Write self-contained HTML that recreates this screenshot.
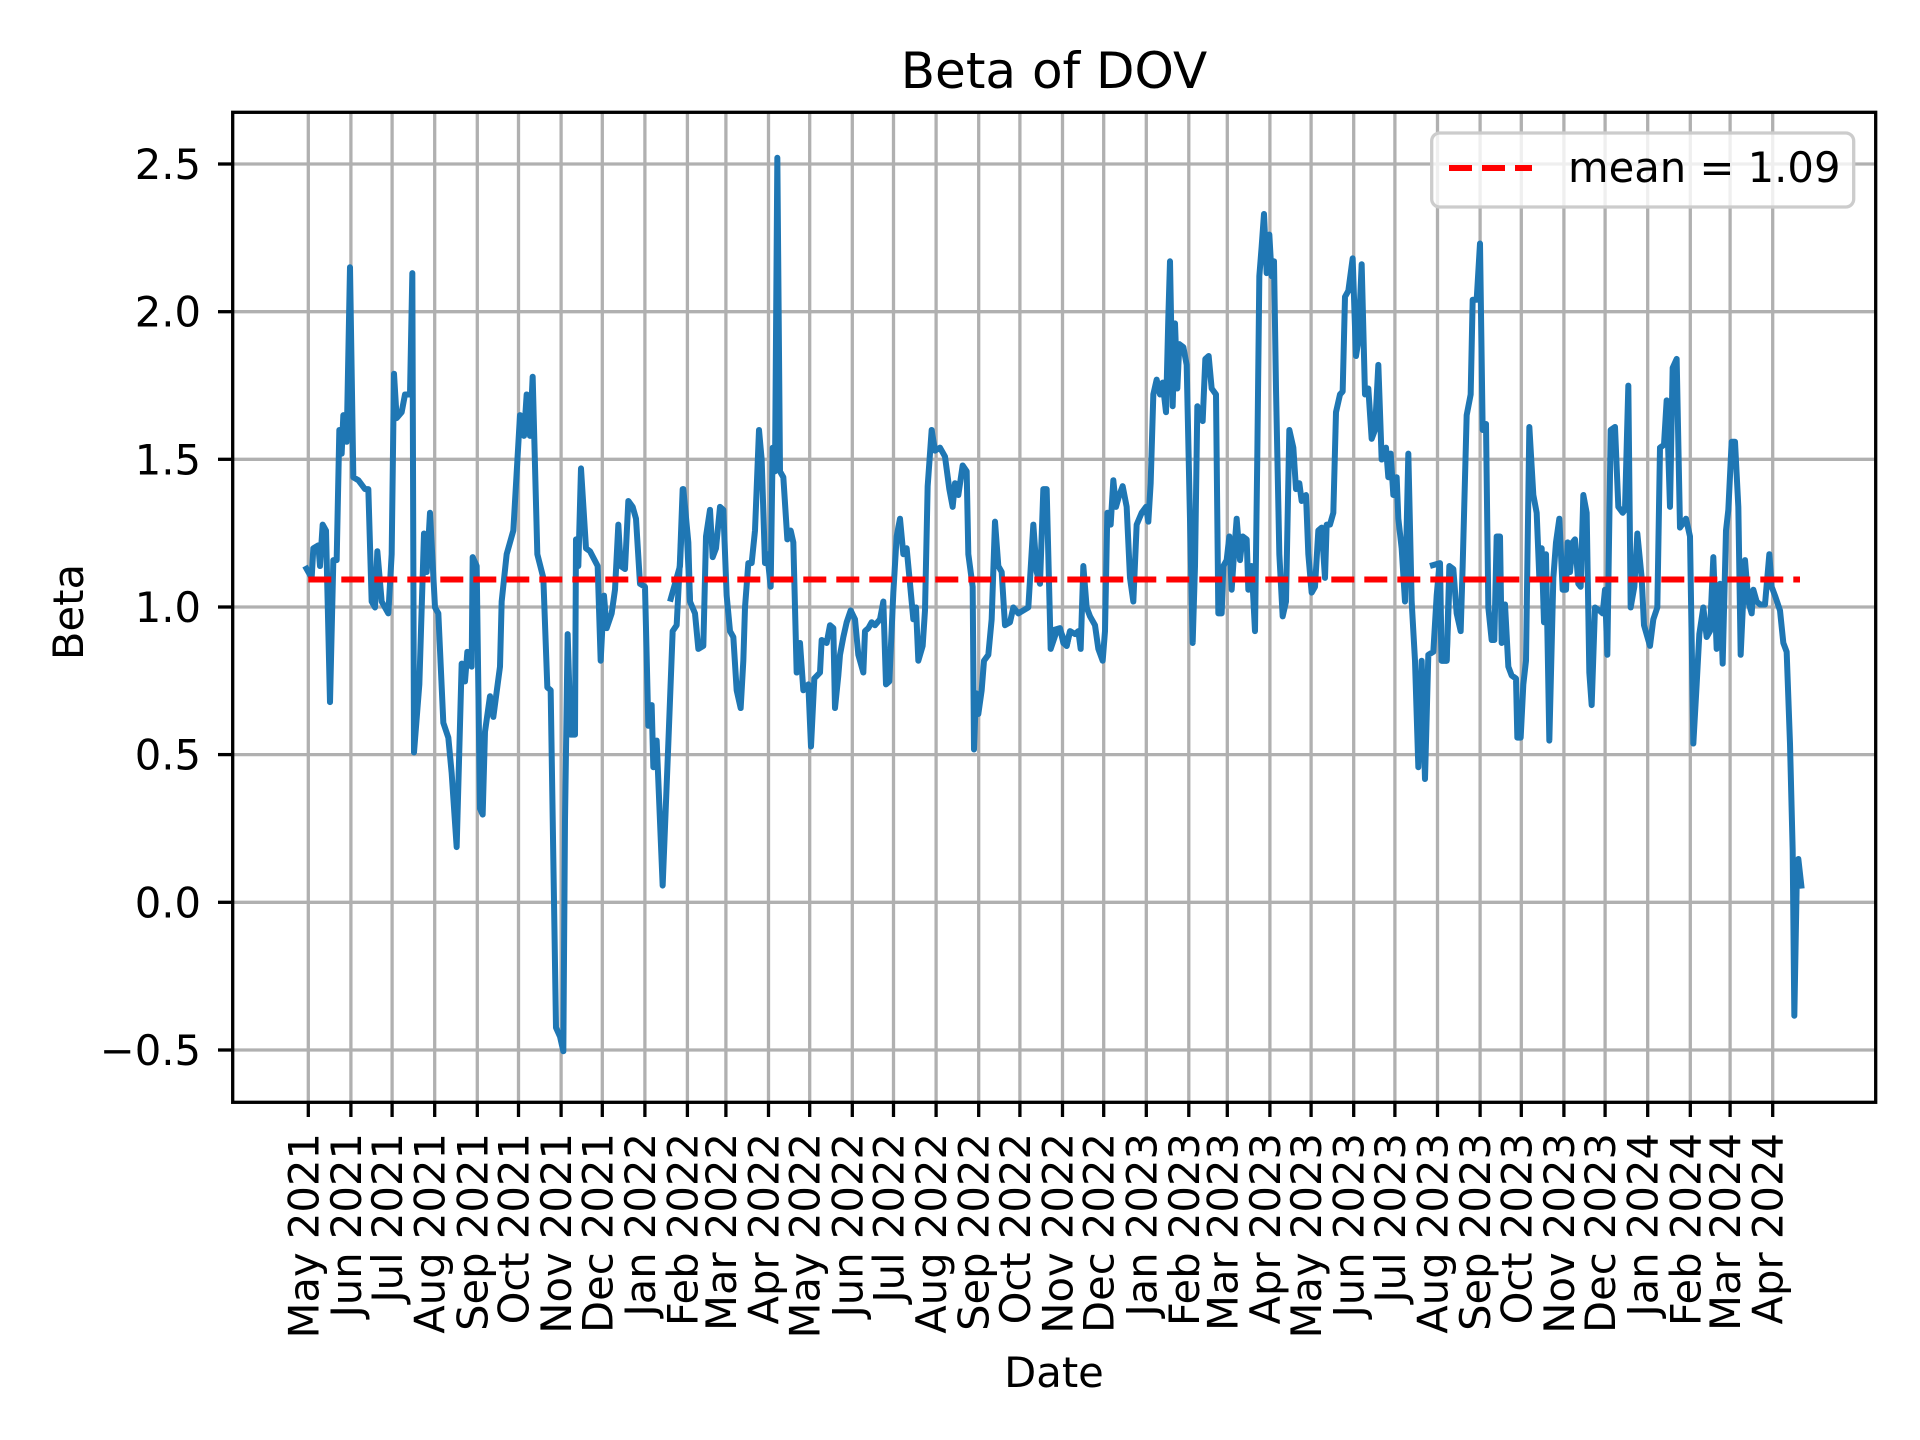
<!DOCTYPE html>
<html><head><meta charset="utf-8"><style>html,body{margin:0;padding:0;background:#fff}svg{display:block}</style></head>
<body>
<svg xmlns="http://www.w3.org/2000/svg" width="1920" height="1440" viewBox="0 0 1920 1440" font-family="'DejaVu Sans','Liberation Sans',sans-serif">
<rect width="1920" height="1440" fill="#fff"/>
<!-- grid -->
<g stroke="#b0b0b0" stroke-width="3.3">
<line x1="232.7" x2="1875.7" y1="164" y2="164"/>
<line x1="232.7" x2="1875.7" y1="311.7" y2="311.7"/>
<line x1="232.7" x2="1875.7" y1="459.3" y2="459.3"/>
<line x1="232.7" x2="1875.7" y1="607" y2="607"/>
<line x1="232.7" x2="1875.7" y1="754.6" y2="754.6"/>
<line x1="232.7" x2="1875.7" y1="902.3" y2="902.3"/>
<line x1="232.7" x2="1875.7" y1="1050" y2="1050"/>
<g id="vg">
<line x1="308.3" x2="308.3" y1="112.3" y2="1102.3"/><line x1="350.9" x2="350.9" y1="112.3" y2="1102.3"/><line x1="392.1" x2="392.1" y1="112.3" y2="1102.3"/><line x1="434.7" x2="434.7" y1="112.3" y2="1102.3"/><line x1="477.3" x2="477.3" y1="112.3" y2="1102.3"/><line x1="518.5" x2="518.5" y1="112.3" y2="1102.3"/><line x1="561.1" x2="561.1" y1="112.3" y2="1102.3"/><line x1="602.3" x2="602.3" y1="112.3" y2="1102.3"/><line x1="644.9" x2="644.9" y1="112.3" y2="1102.3"/><line x1="687.4" x2="687.4" y1="112.3" y2="1102.3"/><line x1="725.9" x2="725.9" y1="112.3" y2="1102.3"/><line x1="768.5" x2="768.5" y1="112.3" y2="1102.3"/><line x1="809.7" x2="809.7" y1="112.3" y2="1102.3"/><line x1="852.3" x2="852.3" y1="112.3" y2="1102.3"/><line x1="893.5" x2="893.5" y1="112.3" y2="1102.3"/><line x1="936.1" x2="936.1" y1="112.3" y2="1102.3"/><line x1="978.7" x2="978.7" y1="112.3" y2="1102.3"/><line x1="1019.9" x2="1019.9" y1="112.3" y2="1102.3"/><line x1="1062.5" x2="1062.5" y1="112.3" y2="1102.3"/><line x1="1103.7" x2="1103.7" y1="112.3" y2="1102.3"/><line x1="1146.3" x2="1146.3" y1="112.3" y2="1102.3"/><line x1="1188.8" x2="1188.8" y1="112.3" y2="1102.3"/><line x1="1227.3" x2="1227.3" y1="112.3" y2="1102.3"/><line x1="1269.9" x2="1269.9" y1="112.3" y2="1102.3"/><line x1="1311.1" x2="1311.1" y1="112.3" y2="1102.3"/><line x1="1353.7" x2="1353.7" y1="112.3" y2="1102.3"/><line x1="1394.9" x2="1394.9" y1="112.3" y2="1102.3"/><line x1="1437.5" x2="1437.5" y1="112.3" y2="1102.3"/><line x1="1480.1" x2="1480.1" y1="112.3" y2="1102.3"/><line x1="1521.3" x2="1521.3" y1="112.3" y2="1102.3"/><line x1="1563.9" x2="1563.9" y1="112.3" y2="1102.3"/><line x1="1605.1" x2="1605.1" y1="112.3" y2="1102.3"/><line x1="1647.7" x2="1647.7" y1="112.3" y2="1102.3"/><line x1="1690.3" x2="1690.3" y1="112.3" y2="1102.3"/><line x1="1730.1" x2="1730.1" y1="112.3" y2="1102.3"/><line x1="1772.7" x2="1772.7" y1="112.3" y2="1102.3"/>
</g>
</g>
<!-- data -->
<g fill="none" stroke="#1f77b4" stroke-width="6" stroke-linejoin="round">
<polyline vector-effect="non-scaling-stroke" transform="translate(300,140) scale(0.33333,0.59172)" points="15,720 35,740 40,690 55,685 60,720 68,650 78,660 90,950 100,710 110,710 118,490 125,530 130,465 140,510 150,215 160,570 175,575 195,590 205,590 215,780 225,790 232,695 245,780 265,800 275,700 282,395 290,470 305,460 315,430 330,430 337,225 342,1035 358,920 372,665 380,730 390,630 405,790 415,800 430,985 445,1010 455,1070 470,1195 485,885 495,915 502,865 515,890 518,705 530,720 540,1130 548,1140 555,1000 570,940 580,975 600,890 605,780 620,700 640,660 660,465 672,500 680,430 690,500 698,400 712,700 730,740 742,925 752,930 768,1500 780,1515 790,1540 795,1150 803,835 812,1005 825,1005 828,675 835,720 843,555 858,690 870,695 893,720 902,880 912,770 920,825 935,800 945,760 955,650 962,720 975,725 985,610 998,620 1008,640 1020,750 1035,755 1045,990 1055,955 1060,1060 1070,1015 1088,1260 1105,1020 1118,830 1130,820 1140,710 1148,590 1160,660 1170,780"/>
<polyline vector-effect="non-scaling-stroke" transform="translate(680,140) scale(0.33333,0.59172)" points="-30,780 0,720 10,590 25,680 30,780 45,800 55,860 70,855 78,670 90,625 98,705 108,690 120,620 130,625 140,770 150,830 160,840 170,930 182,960 190,880 195,790 205,715 215,715 225,660 237,490 245,540 255,715 262,700 272,755 278,520 285,560 292,30 300,560 310,570 318,640 322,675 332,660 340,680 350,900 360,850 370,930 385,920 393,1025 403,910 420,900 425,845 440,850 450,820 460,825 465,960 475,905 480,870 490,840 500,815 512,795 525,810 535,870 550,900 555,830 565,825 575,815 585,820 600,810 610,780 618,920 628,915 640,765 650,670 660,640 670,700 680,690 690,750 700,810 708,790 715,880 728,855 735,795 743,585 755,490 765,525 780,520 795,535 808,590 818,620 825,580 835,600 848,550 860,560 865,700 878,755 882,1030 888,935 895,970 905,930 912,880 925,870 935,810 945,645 955,720 965,730 975,820 990,815 1000,790 1015,800 1030,795 1045,790 1060,650 1070,730 1080,750 1090,590 1100,590 1112,860 1130,830 1140,828 1160,855 1170,830"/>
<polyline vector-effect="non-scaling-stroke" transform="translate(1060,140) scale(0.33333,0.59172)" points="-30,830 0,825 10,850 20,855 30,830 45,835 55,830 62,860 70,720 80,790 90,805 105,820 115,860 128,880 135,830 142,630 152,650 160,575 168,620 178,600 188,585 200,620 210,740 220,780 230,650 245,630 258,620 265,645 272,580 280,430 290,405 300,430 308,410 318,460 325,300 330,205 338,450 345,310 352,420 358,345 370,350 380,380 398,850 405,720 412,450 420,465 428,475 436,370 446,365 455,420 468,430 475,800 485,800 490,720 500,710 508,670 515,760 522,700 530,640 540,710 548,670 560,675 565,760 575,720 585,830 592,530 598,230 605,180 612,125 620,225 628,160 635,230 642,205 648,420 658,700 668,805 678,780 688,490 700,520 708,590 718,580 725,610 738,600 745,700 755,765 765,755 775,660 785,655 795,740 800,650 810,650 820,630 828,460 840,430 848,425 855,265 865,255 878,200 888,365 895,340 905,210 915,430 925,420 935,505 945,490 955,380 965,540 978,520 985,570 992,530 1000,600 1010,570 1015,640 1025,690 1035,780 1045,530 1055,780 1065,880 1075,1060 1085,880 1095,1080 1105,870 1120,865 1130,770 1138,720 1145,880 1160,880 1170,720"/>
<polyline vector-effect="non-scaling-stroke" transform="translate(1440,140) scale(0.33333,0.59172)" points="-30,720 0,715 5,880 20,880 28,720 40,725 50,800 62,830 68,720 80,465 92,430 98,270 110,270 120,175 128,490 138,480 145,790 155,845 163,845 170,670 180,670 185,850 195,785 205,890 215,905 228,910 232,1010 242,1010 250,920 258,880 268,485 280,600 290,630 298,740 305,690 312,815 318,700 328,1015 340,740 348,680 358,640 368,760 378,760 383,680 390,730 398,680 405,675 415,750 422,755 430,600 440,630 448,900 455,955 465,790 478,795 488,800 495,760 502,870 512,490 525,485 535,620 548,630 555,625 565,415 572,790 583,755 592,665 605,740 612,820 630,855 640,810 652,790 660,520 672,515 680,440 690,620 698,385 710,370 720,655 738,640 750,670 760,1020 770,920 778,835 790,790 800,840 810,830 820,705 830,860 840,750 848,885 858,660 865,625 875,510 885,510 895,620 902,870 915,710 925,780 935,800 940,760 950,780 960,785 975,785 988,700 995,755 1005,770 1020,795 1030,850 1040,865 1050,1020 1058,1200 1063,1480 1070,1260 1075,1215 1085,1265"/>
</g>
<!-- mean line -->
<line x1="308.3" x2="1800" y1="579.5" y2="579.5" stroke="#ff0000" stroke-width="6" stroke-dasharray="23,10"/>
<!-- axes frame -->
<rect x="232.7" y="112.3" width="1643" height="990" fill="none" stroke="#000" stroke-width="3.3"/>
<!-- y ticks -->
<g stroke="#000" stroke-width="3.3">
<line x1="218" x2="232.7" y1="164" y2="164"/><line x1="218" x2="232.7" y1="311.7" y2="311.7"/><line x1="218" x2="232.7" y1="459.3" y2="459.3"/><line x1="218" x2="232.7" y1="607" y2="607"/><line x1="218" x2="232.7" y1="754.6" y2="754.6"/><line x1="218" x2="232.7" y1="902.3" y2="902.3"/><line x1="218" x2="232.7" y1="1050" y2="1050"/>
</g>
<g font-size="41.7" text-anchor="end" fill="#000">
<text x="201" y="179">2.5</text><text x="201" y="326.7">2.0</text><text x="201" y="474.3">1.5</text><text x="201" y="622">1.0</text><text x="201" y="769.6">0.5</text><text x="201" y="917.3">0.0</text><text x="201" y="1065">−0.5</text>
</g>
<!-- x ticks -->
<g stroke="#000" stroke-width="3.3" transform="translate(0,990)">
<use href="#xt"/>
</g>
<g stroke="#000" stroke-width="3.3">
<path d="M308.3 1102v15M350.9 1102v15M392.1 1102v15M434.7 1102v15M477.3 1102v15M518.5 1102v15M561.1 1102v15M602.3 1102v15M644.9 1102v15M687.4 1102v15M725.9 1102v15M768.5 1102v15M809.7 1102v15M852.3 1102v15M893.5 1102v15M936.1 1102v15M978.7 1102v15M1019.9 1102v15M1062.5 1102v15M1103.7 1102v15M1146.3 1102v15M1188.8 1102v15M1227.3 1102v15M1269.9 1102v15M1311.1 1102v15M1353.7 1102v15M1394.9 1102v15M1437.5 1102v15M1480.1 1102v15M1521.3 1102v15M1563.9 1102v15M1605.1 1102v15M1647.7 1102v15M1690.3 1102v15M1730.1 1102v15M1772.7 1102v15"/>
</g>
<g font-size="41.7" text-anchor="end" fill="#000">
<text transform="translate(318.3,1133) rotate(-90)">May 2021</text>
<text transform="translate(360.9,1133) rotate(-90)">Jun 2021</text>
<text transform="translate(402.1,1133) rotate(-90)">Jul 2021</text>
<text transform="translate(444.7,1133) rotate(-90)">Aug 2021</text>
<text transform="translate(487.3,1133) rotate(-90)">Sep 2021</text>
<text transform="translate(528.5,1133) rotate(-90)">Oct 2021</text>
<text transform="translate(571.1,1133) rotate(-90)">Nov 2021</text>
<text transform="translate(612.3,1133) rotate(-90)">Dec 2021</text>
<text transform="translate(654.9,1133) rotate(-90)">Jan 2022</text>
<text transform="translate(697.4,1133) rotate(-90)">Feb 2022</text>
<text transform="translate(735.9,1133) rotate(-90)">Mar 2022</text>
<text transform="translate(778.5,1133) rotate(-90)">Apr 2022</text>
<text transform="translate(819.7,1133) rotate(-90)">May 2022</text>
<text transform="translate(862.3,1133) rotate(-90)">Jun 2022</text>
<text transform="translate(903.5,1133) rotate(-90)">Jul 2022</text>
<text transform="translate(946.1,1133) rotate(-90)">Aug 2022</text>
<text transform="translate(988.7,1133) rotate(-90)">Sep 2022</text>
<text transform="translate(1029.9,1133) rotate(-90)">Oct 2022</text>
<text transform="translate(1072.5,1133) rotate(-90)">Nov 2022</text>
<text transform="translate(1113.7,1133) rotate(-90)">Dec 2022</text>
<text transform="translate(1156.3,1133) rotate(-90)">Jan 2023</text>
<text transform="translate(1198.8,1133) rotate(-90)">Feb 2023</text>
<text transform="translate(1237.3,1133) rotate(-90)">Mar 2023</text>
<text transform="translate(1279.9,1133) rotate(-90)">Apr 2023</text>
<text transform="translate(1321.1,1133) rotate(-90)">May 2023</text>
<text transform="translate(1363.7,1133) rotate(-90)">Jun 2023</text>
<text transform="translate(1404.9,1133) rotate(-90)">Jul 2023</text>
<text transform="translate(1447.5,1133) rotate(-90)">Aug 2023</text>
<text transform="translate(1490.1,1133) rotate(-90)">Sep 2023</text>
<text transform="translate(1531.3,1133) rotate(-90)">Oct 2023</text>
<text transform="translate(1573.9,1133) rotate(-90)">Nov 2023</text>
<text transform="translate(1615.1,1133) rotate(-90)">Dec 2023</text>
<text transform="translate(1657.7,1133) rotate(-90)">Jan 2024</text>
<text transform="translate(1700.3,1133) rotate(-90)">Feb 2024</text>
<text transform="translate(1740.1,1133) rotate(-90)">Mar 2024</text>
<text transform="translate(1782.7,1133) rotate(-90)">Apr 2024</text>
</g>
<!-- labels -->
<text x="1054" y="88" font-size="50" text-anchor="middle">Beta of DOV</text>
<text x="1054" y="1387" font-size="41.7" text-anchor="middle">Date</text>
<text transform="translate(83,612) rotate(-90)" font-size="41.7" text-anchor="middle">Beta</text>
<!-- legend -->
<rect x="1431.7" y="133" width="422" height="74" rx="8" fill="#fff" fill-opacity="0.8" stroke="#cccccc" stroke-width="3.3"/>
<line x1="1449" x2="1532" y1="168" y2="168" stroke="#ff0000" stroke-width="6" stroke-dasharray="23,10"/>
<text x="1568" y="182" font-size="41.7">mean = 1.09</text>
</svg>
</body></html>
